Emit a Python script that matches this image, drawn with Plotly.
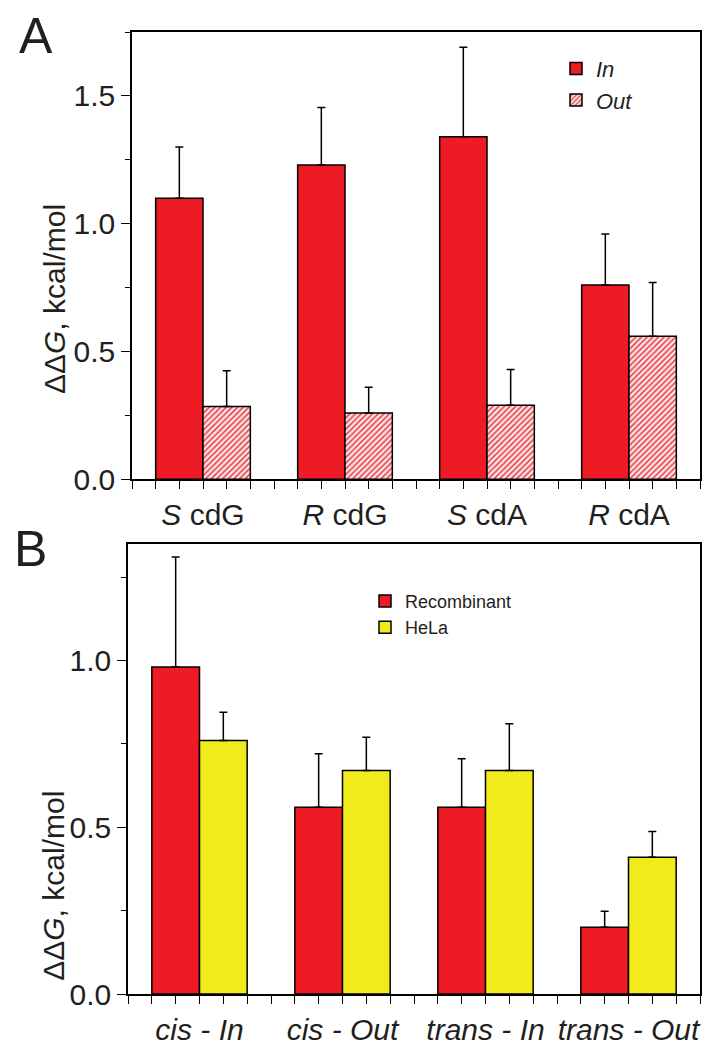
import plotly.graph_objects as go

FONT = "Liberation Sans, Arial, sans-serif"
TXT = "#231F20"
RED = "#ED1C24"
YEL = "#F2EB1C"

# ---- Panel A data ----
cats_a = ["<i>S</i> cdG", "<i>R</i> cdG", "<i>S</i> cdA", "<i>R</i> cdA"]
in_vals = [1.10, 1.23, 1.34, 0.76]
in_err = [0.20, 0.225, 0.35, 0.20]
out_vals = [0.285, 0.26, 0.29, 0.56]
out_err = [0.14, 0.10, 0.14, 0.21]

# ---- Panel B data ----
cats_b = ["<i>cis - In</i>", "<i>cis - Out</i>", "<i>trans - In</i>", "<i>trans - Out</i>"]
rec_vals = [0.98, 0.56, 0.56, 0.20]
rec_err = [0.33, 0.16, 0.145, 0.048]
hela_vals = [0.76, 0.67, 0.67, 0.41]
hela_err = [0.085, 0.10, 0.14, 0.077]

yticks_a = [0.0, 0.5, 1.0, 1.5]
yticks_b = [0.0, 0.5, 1.0]

W, H = 717, 1050
ML, MR, MT, MB = 120, 25, 24, 39
PW, PH = W - ML - MR, H - MT - MB


def px_x(x):
    return (x - ML) / PW


def px_y(y):
    return 1 - (y - MT) / PH


def err(vals):
    return dict(type="data", array=vals, arrayminus=[0] * len(vals), symmetric=False,
                color="black", thickness=1.5, width=4)


xa = list(range(len(cats_a)))
xb = list(range(len(cats_b)))

fig = go.Figure()
fig.add_trace(go.Bar(x=xa, y=in_vals, name="<i>In</i>", error_y=err(in_err),
                     marker=dict(color=RED, line=dict(color="black", width=1.5)),
                     xaxis="x", yaxis="y", legend="legend"))
fig.add_trace(go.Bar(x=xa, y=out_vals, name="<i>Out</i>", error_y=err(out_err),
                     marker=dict(color="white", line=dict(color="black", width=1.5),
                                 pattern=dict(shape="/", fgcolor="#E8414A", bgcolor="#FCE8E9",
                                              size=4, solidity=0.4, fillmode="replace")),
                     xaxis="x", yaxis="y", legend="legend"))
fig.add_trace(go.Bar(x=xb, y=rec_vals, name="Recombinant", error_y=err(rec_err),
                     marker=dict(color=RED, line=dict(color="black", width=1.5)),
                     xaxis="x2", yaxis="y2", legend="legend2"))
fig.add_trace(go.Bar(x=xb, y=hela_vals, name="HeLa", error_y=err(hela_err),
                     marker=dict(color=YEL, line=dict(color="black", width=1.5)),
                     xaxis="x2", yaxis="y2", legend="legend2"))

nsub = 6
tickpos = [-0.5 + k / nsub for k in range(len(cats_a) * nsub + 1)]


def ticktext(cats):
    out = []
    for k in range(len(tickpos)):
        out.append(cats[k // nsub] if k % nsub == nsub // 2 else "")
    return out


xcommon = dict(range=[-0.5, 3.5], tickmode="array", tickvals=tickpos, ticks="outside",
               ticklen=8, tickwidth=1.2, tickcolor="black", showline=True, linecolor="black",
               linewidth=1.5, mirror=True, showgrid=False, zeroline=False,
               tickfont=dict(family=FONT, size=30, color=TXT))
ycommon = dict(tickmode="array", ticks="outside", ticklen=9, tickwidth=1.2, tickcolor="black",
               showline=True, linecolor="black", linewidth=1.5, mirror=True, showgrid=False,
               zeroline=False, tickfont=dict(family=FONT, size=30, color=TXT),
               minor=dict(dtick=0.25, ticks="outside", ticklen=5, tickwidth=1.2, tickcolor="black"))

fig.update_layout(
    width=W, height=H,
    margin=dict(l=ML, r=MR, t=MT, b=MB),
    paper_bgcolor="white", plot_bgcolor="white",
    barmode="group", bargap=1 / 3, bargroupgap=0,
    font=dict(family=FONT, color=TXT),
    xaxis=dict(domain=[px_x(124), 1], anchor="y", ticktext=ticktext(cats_a), **xcommon),
    yaxis=dict(domain=[px_y(483), 1], anchor="x", range=[0, 1.75], tickvals=yticks_a,
               ticktext=[f"{v:.1f}" for v in yticks_a], **ycommon),
    xaxis2=dict(domain=[0, 1], anchor="y2", ticktext=ticktext(cats_b), **xcommon),
    yaxis2=dict(domain=[0, px_y(549)], anchor="x2", range=[0, 1.35], tickvals=yticks_b,
                ticktext=[f"{v:.1f}" for v in yticks_b], **ycommon),
    legend=dict(x=px_x(548), y=px_y(40), xanchor="left", yanchor="top",
                font=dict(family=FONT, size=22, color=TXT), bgcolor="rgba(0,0,0,0)",
                tracegroupgap=0),
    legend2=dict(x=px_x(357), y=px_y(589), xanchor="left", yanchor="top",
                 font=dict(family=FONT, size=18, color=TXT), bgcolor="rgba(0,0,0,0)",
                 tracegroupgap=0),
    showlegend=True,
)

ytitle = "\u0394\u0394<i>G</i>, kcal/mol"
fig.add_annotation(text=ytitle, xref="paper", yref="paper", x=px_x(46), y=px_y(298),
                   textangle=-90, showarrow=False, xanchor="center", yanchor="middle",
                   font=dict(family=FONT, size=30, color=TXT))
fig.add_annotation(text=ytitle, xref="paper", yref="paper", x=px_x(46), y=px_y(900),
                   textangle=-90, showarrow=False, xanchor="center", yanchor="middle",
                   font=dict(family=FONT, size=30, color=TXT))
fig.add_annotation(text="A", xref="paper", yref="paper", x=px_x(28), y=px_y(28),
                   showarrow=False, xanchor="center", yanchor="middle",
                   font=dict(family=FONT, size=50, color=TXT))
fig.add_annotation(text="B", xref="paper", yref="paper", x=px_x(22), y=px_y(554),
                   showarrow=False, xanchor="center", yanchor="middle",
                   font=dict(family=FONT, size=50, color=TXT))

fig.write_html("out.html")
